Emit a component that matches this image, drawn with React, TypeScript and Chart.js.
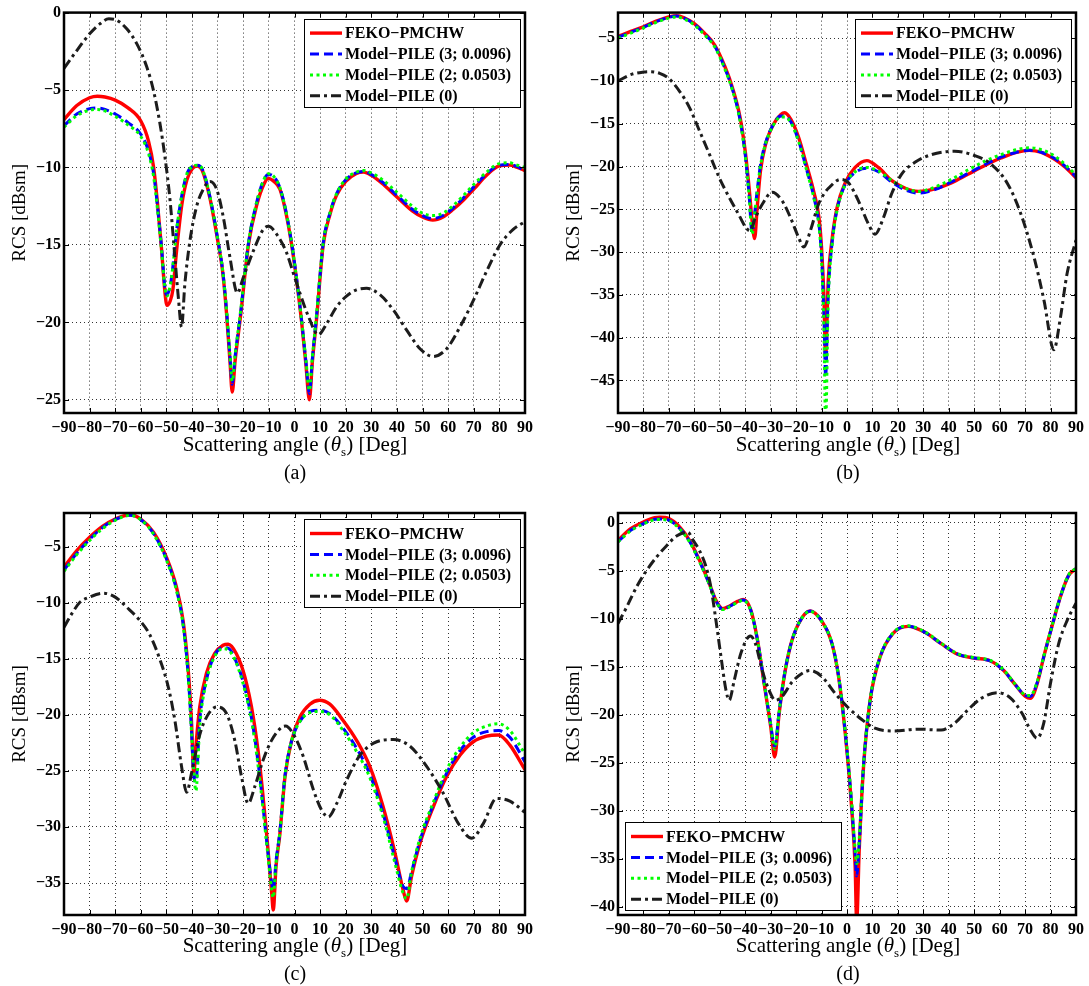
import React, { useEffect, useRef } from "react";
import { Chart, registerables } from "chart.js";

Chart.register(...registerables);

// ---------------- shared ----------------
const xTicks = [-90, -80, -70, -60, -50, -40, -30, -20, -10, 0, 10, 20, 30, 40, 50, 60, 70, 80, 90];
const seriesNames = ["FEKO\u2212PMCHW", "Model\u2212PILE (3; 0.0096)", "Model\u2212PILE (2; 0.0503)", "Model\u2212PILE (0)"];
const seriesColors = ["#ff0000", "#0000ff", "#00ff00", "#1c1c1c"];
const seriesDash = [[], [9, 5], [3, 3.5], [10, 4, 3, 4]];
const seriesWidth = [3.4, 3, 3, 3];

// ---------------- panel (a) ----------------
const yTicksA = [-25, -20, -15, -10, -5, 0];
const angA = [-90, -85, -80, -77, -74, -70, -65, -60, -57, -55, -53.5, -52, -50.5, -49.8, -48.5, -47.5, -46, -44, -42, -40, -38, -36, -33, -30, -28, -26.5, -25.2, -24.3, -23.2, -21, -18, -14.7, -12, -10.2, -8, -5.7, -3.5, -1.1, 1, 2.8, 4.5, 5.8, 7, 8.6, 11.2, 13.9, 16.4, 20, 24, 27, 30, 34, 40, 46, 50, 54, 58, 62, 66, 70, 75, 80, 84, 87, 90];
const fekoA = [-6.9, -6.0, -5.5, -5.4, -5.45, -5.65, -6.15, -7.0, -8.3, -10.0,
  -12.3, -15.1, -18.2, -18.9, -18.6, -17.9, -15.3, -12.4, -10.8, -10.1,
  -9.9, -10.2, -12.0, -14.7, -16.8, -19.5, -22.5, -24.5, -22.5, -19.5,
  -15.0, -12.4, -11.1, -10.7, -10.9, -11.4, -12.8, -15.0, -17.5, -20.0,
  -22.8, -25.0, -22.5, -19.8, -15.0, -13.0, -11.8, -10.9, -10.4, -10.3,
  -10.5, -11.0, -11.9, -12.8, -13.2, -13.4, -13.2, -12.7, -12.1, -11.4,
  -10.5, -9.9, -9.85, -10.0, -10.2];
const pile3A = [-7.3, -6.55, -6.2, -6.15, -6.25, -6.55, -7.1, -7.85, -8.95, -10.4,
  -12.5, -15.0, -17.9, -18.2, -17.6, -16.4, -14.0, -11.8, -10.4, -9.95,
  -9.85, -10.1, -11.9, -14.6, -16.7, -19.3, -22.2, -24.0, -22.2, -19.3,
  -14.9, -12.2, -10.8, -10.45, -10.6, -11.3, -12.7, -14.9, -17.4, -19.9,
  -22.6, -24.6, -22.3, -19.6, -14.9, -12.9, -11.7, -10.8, -10.35, -10.25,
  -10.45, -10.9, -11.8, -12.7, -13.1, -13.3, -13.1, -12.6, -11.95, -11.25,
  -10.4, -9.85, -9.8, -9.95, -10.2];
const pile2A = [-7.4, -6.65, -6.3, -6.25, -6.35, -6.7, -7.25, -8.0, -9.1, -10.6,
  -12.7, -15.2, -17.9, -18.3, -17.6, -16.4, -14.0, -11.8, -10.4, -9.95,
  -9.85, -10.1, -11.9, -14.6, -16.7, -19.3, -22.1, -23.8, -22.1, -19.2,
  -14.9, -12.2, -10.8, -10.4, -10.6, -11.3, -12.7, -14.9, -17.4, -19.9,
  -22.5, -24.4, -22.2, -19.5, -14.9, -12.9, -11.7, -10.75, -10.3, -10.2,
  -10.35, -10.75, -11.6, -12.5, -12.95, -13.1, -12.95, -12.45, -11.8, -11.1,
  -10.3, -9.75, -9.7, -9.85, -10.0];
const angA0 = [-90, -85, -80, -76, -72.5, -70, -65.5, -61.6, -57.7, -55.1, -52.5, -50.6, -48.6, -46.7, -45.3, -44.1, -42.8, -40.8, -38.2, -35.6, -33, -30.4, -27.8, -25.2, -22.3, -20, -16.1, -12.2, -10.2, -7, -3.1, -0.5, 2.1, 5.4, 9.3, 12.5, 16.4, 20.3, 24.2, 28.1, 33.3, 38.6, 43.8, 49, 54.2, 59.4, 64.6, 69.8, 75, 80.2, 85.4, 90];
const pile0A = [-3.6, -2.45, -1.37, -0.73, -0.4, -0.45, -1.05, -2.0, -3.5, -5.0,
  -7.2, -9.3, -12.1, -15.8, -18.5, -20.3, -17.5, -14.7, -12.5, -11.4,
  -10.9, -11.4, -13.2, -15.8, -18.1, -17.1, -15.4, -14.0, -13.8, -14.3,
  -15.5, -16.8, -18.1, -19.6, -20.8, -20.1, -19.0, -18.3, -17.9, -17.8,
  -18.2, -19.2, -20.5, -21.7, -22.2, -21.7, -20.3, -18.6, -16.7, -15.0,
  -14.0, -13.5];

// ---------------- panel (b) ----------------
const yTicksB = [-45, -40, -35, -30, -25, -20, -15, -10, -5];
const angB = [-90, -85, -80, -75, -70, -67, -64, -60, -56, -52, -48, -45, -42, -40, -38.5, -37.3, -36.3, -35.3, -34, -32, -29, -26, -24.5, -22, -19, -16, -13, -11, -10, -9.1, -8.4, -7.4, -5.9, -3.9, -0.7, 3.2, 7.8, 12.3, 17.5, 22.7, 28, 34.5, 41, 47.5, 54, 60.5, 67, 71.6, 76.1, 81.3, 85.9, 90];
const fekoB = [-4.8, -4.2, -3.65, -3.0, -2.5, -2.35, -2.6, -3.3, -4.4, -5.8,
  -8.3, -10.8, -14.3, -18.2, -22.4, -26.3, -28.4, -24.8, -20.5, -17.4,
  -15.1, -13.9, -13.7, -14.5, -16.6, -19.7, -23.0, -26.0, -29.5, -35.0,
  -42.2, -33.5, -28.6, -24.8, -21.9, -20.1, -19.3, -20.1, -21.6, -22.5,
  -22.9, -22.6, -21.9, -20.9, -19.9, -19.0, -18.3, -18.1, -18.3, -19.1,
  -20.1, -21.3];
const pile3B = [-4.9, -4.3, -3.7, -3.05, -2.55, -2.4, -2.65, -3.35, -4.5, -5.9,
  -8.5, -11.0, -14.6, -18.6, -23.2, -27.7, -25.5, -22.8, -19.8, -17.2,
  -15.1, -14.1, -14.1, -14.8, -17.0, -20.2, -23.6, -26.8, -30.5, -37.0,
  -44.5, -35.0, -29.0, -25.0, -22.1, -20.7, -20.2, -20.6, -21.8, -22.7,
  -23.1, -22.7, -21.8, -20.8, -19.8, -18.9, -18.3, -18.1, -18.3, -19.0,
  -20.0, -21.2];
const pile2B = [-5.0, -4.4, -3.8, -3.15, -2.65, -2.5, -2.75, -3.45, -4.6, -6.0,
  -8.6, -11.1, -14.7, -18.7, -23.3, -27.9, -25.6, -22.9, -19.9, -17.3,
  -15.2, -14.2, -14.2, -14.9, -17.1, -20.3, -23.7, -27.0, -31.0, -38.5,
  -50.0, -36.0, -29.3, -25.1, -22.1, -20.6, -20.1, -20.5, -21.6, -22.5,
  -22.9, -22.4, -21.5, -20.4, -19.4, -18.6, -18.0, -17.8, -18.0, -18.7,
  -19.8, -21.0];
const angB0 = [-90, -85, -80, -77.5, -73.6, -70, -65.8, -61.9, -58, -54, -50.2, -46.3, -42.4, -39.8, -38.2, -35.9, -33.3, -29.4, -25.5, -22.3, -19, -17, -14.4, -11.2, -8.6, -7.2, -2.6, 0.6, 4.5, 8.4, 11, 14.3, 17.5, 21.4, 26.7, 33.2, 42.3, 50.1, 56.6, 63.1, 68.3, 73.5, 77.4, 81.3, 83.9, 86.5, 90];
const pile0B = [-10.0, -9.25, -8.95, -8.9, -9.1, -9.7, -11.2, -13.1, -15.8, -18.6,
  -21.3, -23.6, -25.7, -27.1, -27.5, -25.9, -24.4, -23.0, -24.0, -25.9,
  -28.3, -29.4, -27.5, -24.4, -23.0, -22.5, -21.5, -21.9, -24.0, -26.7,
  -27.9, -26.0, -23.2, -20.9, -19.5, -18.6, -18.2, -18.7, -19.7, -22.0,
  -25.5, -30.6, -35.6, -41.4, -37.6, -32.5, -28.6];

// ---------------- panel (c) ----------------
const yTicksC = [-35, -30, -25, -20, -15, -10, -5];
const angC = [-90, -85, -80, -75, -70, -64.2, -60, -55, -50, -46.1, -43.5, -41.6, -40.3, -39.3, -38.5, -37, -34.4, -31.2, -27.9, -25.9, -22.7, -19.4, -16.1, -13.5, -10.9, -8.9, -8.3, -7.2, -5.7, -3.7, -1.1, 2.1, 6, 9.7, 13.8, 19, 24.3, 29.4, 34.6, 39.2, 42.4, 43.8, 45.7, 49, 54.2, 59.4, 64.6, 69.8, 75, 79.6, 84.1, 90];
const fekoC = [-6.84, -5.36, -4.17, -3.2, -2.54, -2.15, -2.54, -3.73, -5.95, -8.6,
  -11.6, -15.7, -20.2, -25.2, -22.8, -19.3, -16.3, -14.55, -13.8, -13.7,
  -14.55, -16.6, -20.2, -24.6, -30.6, -35.9, -37.4, -33.5, -30.6, -25.5,
  -22.3, -20.2, -19.05, -18.7, -19.05, -20.5, -22.3, -24.6, -28.2, -32.3,
  -35.6, -36.6, -34.4, -31.45, -28.2, -25.5, -23.6, -22.4, -21.9, -21.8,
  -22.7, -24.9];
const pile3C = [-7.1, -5.6, -4.35, -3.3, -2.6, -2.2, -2.6, -3.85, -6.1, -8.8,
  -11.9, -16.2, -21.0, -25.5, -26.0, -20.5, -16.9, -14.7, -14.0, -14.05,
  -15.3, -17.6, -21.2, -25.6, -31.2, -35.0, -35.6, -33.0, -30.4, -25.4,
  -22.3, -20.6, -19.7, -19.6, -19.9, -21.2, -23.0, -25.3, -28.8, -32.8,
  -35.3, -35.5, -34.0, -31.2, -28.0, -25.2, -23.2, -22.0, -21.5, -21.4,
  -22.0, -24.2];
const pile2C = [-7.2, -5.7, -4.45, -3.4, -2.65, -2.2, -2.6, -3.9, -6.2, -8.9,
  -12.0, -16.3, -21.2, -25.0, -26.8, -21.0, -17.0, -14.8, -14.1, -14.2,
  -15.4, -17.8, -21.4, -25.9, -31.4, -35.6, -36.3, -33.2, -30.5, -25.4,
  -22.3, -20.6, -19.8, -19.7, -20.0, -21.4, -23.3, -25.6, -29.1, -33.2,
  -35.9, -36.4, -34.0, -31.0, -27.8, -24.9, -22.9, -21.6, -21.0, -20.8,
  -21.4, -23.5];
const angC0 = [-90, -87, -83.8, -80, -74.6, -70, -65.5, -60.3, -56.4, -52.5, -49.3, -46.7, -44.1, -42.1, -40.2, -37.6, -35, -30.4, -26.5, -23.3, -20.7, -18.1, -15.5, -12.2, -9, -5, -3.5, -0.5, 3.4, 7.4, 10.6, 13.2, 16.5, 20.4, 25.6, 32.1, 38.6, 45.1, 51.6, 58.1, 64, 69.2, 73.7, 78.9, 84.1, 90];
const pile0C = [-12.2, -11.0, -9.96, -9.5, -9.15, -9.5, -10.4, -11.6, -12.9, -15.1,
  -17.5, -20.5, -24.6, -26.9, -25.2, -22.3, -20.5, -19.3, -19.9, -22.3,
  -25.5, -27.9, -26.4, -24.0, -22.3, -21.1, -21.0, -21.7, -23.7, -26.7,
  -28.5, -29.1, -27.9, -25.8, -23.6, -22.4, -22.2, -22.8, -24.6, -27.0,
  -29.7, -31.0, -29.7, -27.45, -27.7, -28.7];

// ---------------- panel (d) ----------------
const yTicksD = [-40, -35, -30, -25, -20, -15, -10, -5, 0];
const angD = [-90, -85, -80, -75.6, -73.6, -70, -65.8, -61.9, -58, -54.1, -51.5, -48.9, -46.3, -43, -40.8, -37.8, -35.2, -32.6, -30, -28.4, -26.8, -24.9, -22.3, -19, -14.5, -9.8, -5.9, -3.3, -0.7, 1.6, 3.2, 3.8, 4.8, 6.5, 9.1, 13, 18.2, 24, 30.5, 37, 43.5, 50, 56.4, 61.6, 66.2, 70.1, 72.1, 74.7, 77.3, 80.5, 83.9, 87.1, 90];
const fekoD = [-1.84, -0.63, 0.07, 0.52, 0.55, 0.41, -0.45, -1.84, -3.9, -6.35,
  -8.1, -8.95, -8.7, -8.2, -8.0, -9.1, -12.2, -16.7, -21.2, -24.4,
  -20.2, -16.4, -12.9, -10.5, -9.2, -10.3, -12.6, -16.05, -21.9, -28.9,
  -35.8, -41.5, -34.1, -25.4, -18.5, -14.0, -11.5, -10.8, -11.4, -12.6,
  -13.7, -14.1, -14.4, -15.4, -16.9, -18.1, -18.3, -16.8, -14.0, -10.85,
  -7.7, -5.5, -4.8];
const pile3D = [-2.0, -0.8, -0.1, 0.35, 0.38, 0.25, -0.6, -1.95, -4.0, -6.4,
  -8.15, -9.0, -8.75, -8.25, -8.05, -9.15, -12.2, -16.6, -21.0, -23.3,
  -20.0, -16.3, -12.9, -10.5, -9.2, -10.3, -12.6, -16.0, -21.8, -28.6,
  -34.5, -36.8, -33.5, -25.3, -18.5, -14.0, -11.5, -10.8, -11.4, -12.6,
  -13.7, -14.1, -14.4, -15.4, -16.9, -18.0, -18.1, -16.7, -14.0, -10.85,
  -7.7, -5.5, -4.8];
const pile2D = [-2.0, -0.85, -0.15, 0.3, 0.32, 0.2, -0.65, -2.0, -4.05, -6.45,
  -8.2, -9.05, -8.8, -8.3, -8.1, -9.2, -12.2, -16.6, -21.0, -23.6,
  -20.0, -16.3, -12.9, -10.5, -9.25, -10.35, -12.6, -16.0, -21.7, -28.3,
  -34.0, -35.5, -33.0, -25.2, -18.4, -13.95, -11.45, -10.75, -11.35, -12.55,
  -13.65, -14.05, -14.35, -15.35, -16.85, -17.95, -18.0, -16.6, -13.95, -10.8,
  -7.65, -5.45, -4.75];
const angD0 = [-90, -86.6, -82.7, -78.8, -74.9, -70.9, -67, -62.5, -60.6, -58, -55.4, -53.5, -51.5, -49.5, -47.6, -46.3, -44.3, -41.7, -38, -36, -33.3, -30.7, -28.1, -25.5, -21.6, -17.7, -14.5, -9.8, -4.6, 0.6, 5.8, 11, 18.8, 27.9, 37, 42.2, 47.5, 52.7, 59.2, 64.4, 68.9, 72.1, 74.7, 77.3, 80, 83.2, 86.5, 90];
const pile0D = [-10.5, -8.8, -6.7, -5.0, -3.6, -2.4, -1.4, -1.0, -1.8, -2.9,
  -4.6, -6.7, -10.2, -14.0, -17.4, -18.5, -16.4, -13.6, -11.8, -12.6,
  -15.4, -17.4, -18.5, -18.1, -16.6, -15.7, -15.4, -16.05, -17.8, -19.3,
  -20.5, -21.4, -21.7, -21.5, -21.6, -20.9, -19.5, -18.3, -17.7, -18.3,
  -19.9, -21.6, -22.45, -20.9, -16.7, -12.6, -10.2, -8.4];

// ---------------- helpers ----------------
const SERIF = "'Liberation Serif', 'Times New Roman', serif";
const fmt = (v: number) => (v < 0 ? "\u2212" + String(Math.abs(v)) : String(v));

const framePlugin = {
  id: "matlabFrame",
  afterDatasetsDraw(chart: any) {
    const { ctx, chartArea: a, scales } = chart;
    ctx.save();
    ctx.strokeStyle = "#000";
    ctx.lineWidth = 1;
    ctx.setLineDash([]);
    ctx.beginPath();
    for (const t of scales.x.ticks) {
      const px = Math.round(scales.x.getPixelForValue(t.value)) + 0.5;
      ctx.moveTo(px, a.bottom);
      ctx.lineTo(px, a.bottom - 5);
      ctx.moveTo(px, a.top);
      ctx.lineTo(px, a.top + 5);
    }
    for (const t of scales.y.ticks) {
      const py = Math.round(scales.y.getPixelForValue(t.value)) + 0.5;
      ctx.moveTo(a.left, py);
      ctx.lineTo(a.left + 5, py);
      ctx.moveTo(a.right, py);
      ctx.lineTo(a.right - 5, py);
    }
    ctx.stroke();
    ctx.lineWidth = 2.5;
    ctx.strokeRect(a.left, a.top, a.right - a.left, a.bottom - a.top);
    ctx.restore();
  },
};

const legendPlugin = {
  id: "pileLegend",
  afterDraw(chart: any, _args: any, opts: any) {
    const { ctx, chartArea: a } = chart;
    const w = 216;
    const h = 88;
    const x = opts.corner === "bl" ? a.left + 7 : a.right - w - 5;
    const y = opts.corner === "bl" ? a.bottom - h - 5 : a.top + 6;
    ctx.save();
    ctx.fillStyle = "#fff";
    ctx.fillRect(x, y, w, h);
    ctx.strokeStyle = "#000";
    ctx.lineWidth = 1;
    ctx.setLineDash([]);
    ctx.strokeRect(Math.round(x) + 0.5, Math.round(y) + 0.5, w, h);
    chart.data.datasets.forEach((ds: any, i: number) => {
      const ry = y + 14.5 + i * 20.9;
      ctx.strokeStyle = ds.borderColor;
      ctx.lineWidth = ds.borderWidth;
      ctx.setLineDash(ds.borderDash || []);
      ctx.beginPath();
      ctx.moveTo(x + 6, ry);
      ctx.lineTo(x + 38, ry);
      ctx.stroke();
      ctx.setLineDash([]);
      ctx.fillStyle = "#000";
      ctx.font = "bold 16px " + SERIF;
      ctx.textBaseline = "middle";
      ctx.textAlign = "left";
      ctx.fillText(ds.label, x + 41, ry + 1);
    });
    ctx.restore();
  },
};

type Series = { x: number[]; y: number[] };
type PanelProps = {
  left: number; top: number; width: number; height: number;
  padTop: number; padRight: number; yAxisW: number; titlePad: number;
  yMin: number; yMax: number; yTicks: number[]; series: Series[]; corner: string;
};

function Panel(p: PanelProps) {
  const ref = useRef<HTMLCanvasElement>(null);
  useEffect(() => {
    const canvas = ref.current;
    if (!canvas) return;
    const tickFont = { family: SERIF, size: 16, weight: "bold" as const };
    const grid = { color: "rgba(0,0,0,0.8)", lineWidth: 1, drawTicks: false };
    const chart = new Chart(canvas, {
      type: "line",
      data: {
        datasets: p.series.map((s, i) => ({
          label: seriesNames[i],
          data: s.x.map((v, j) => ({ x: v, y: s.y[j] })),
          borderColor: seriesColors[i],
          backgroundColor: seriesColors[i],
          borderWidth: seriesWidth[i],
          borderDash: seriesDash[i],
          pointRadius: 0,
          fill: false,
          cubicInterpolationMode: "monotone" as const,
          order: 3 - i,
        })),
      },
      options: {
        responsive: false,
        animation: false,
        devicePixelRatio: 1,
        layout: { padding: { top: p.padTop, right: p.padRight, left: 0, bottom: 0 } },
        plugins: {
          legend: { display: false },
          tooltip: { enabled: false },
          pileLegend: { corner: p.corner },
        } as any,
        scales: {
          x: {
            type: "linear",
            min: -90,
            max: 90,
            afterBuildTicks: (s: any) => { s.ticks = xTicks.map((v) => ({ value: v })); },
            afterFit: (s: any) => { s.height = 27; },
            grid,
            border: { display: false, dash: [1, 3] },
            ticks: {
              autoSkip: false, maxRotation: 0, minRotation: 0, padding: 5, color: "#000",
              font: tickFont, callback: (v: any) => fmt(Number(v)),
            },
          },
          y: {
            type: "linear",
            min: p.yMin,
            max: p.yMax,
            afterBuildTicks: (s: any) => { s.ticks = p.yTicks.map((v) => ({ value: v })); },
            afterFit: (s: any) => { s.width = p.yAxisW; },
            grid,
            border: { display: false, dash: [1, 3] },
            ticks: {
              autoSkip: false, padding: 3, color: "#000",
              font: tickFont, callback: (v: any) => fmt(Number(v)),
            },
            title: {
              display: true, text: "RCS [dBsm]", color: "#000",
              font: { family: SERIF, size: 19, weight: "normal" as const },
              padding: { top: p.titlePad, bottom: 0 },
            },
          },
        },
      },
      plugins: [framePlugin, legendPlugin],
    } as any);
    return () => chart.destroy();
  }, []);
  return (
    <canvas
      ref={ref}
      width={p.width}
      height={p.height}
      style={{ position: "absolute", left: p.left, top: p.top, width: p.width, height: p.height }}
    />
  );
}

function Caption({ cx, cy, letter }: { cx: number; cy: number; letter: string }) {
  const base: React.CSSProperties = {
    position: "absolute", width: 400, textAlign: "center", fontFamily: SERIF, color: "#000",
    whiteSpace: "nowrap",
  };
  return (
    <>
      <div style={{ ...base, left: cx - 200, top: cy - 12, fontSize: 21, lineHeight: "24px" }}>
        Scattering angle (<i>θ</i><sub style={{ fontSize: 13, lineHeight: 0 }}>s</sub>) [Deg]
      </div>
      <div style={{ ...base, left: cx - 200, top: cy + 16, fontSize: 20, lineHeight: "24px" }}>
        ({letter})
      </div>
    </>
  );
}

export default function App() {
  return (
    <div style={{ position: "absolute", left: 0, top: 0, width: 1089, height: 986, background: "#fff", overflow: "hidden" }}>
      <Panel left={0} top={0} width={545} height={440} padTop={12} padRight={20} yAxisW={64} titlePad={9}
        yMin={-25.85} yMax={0} yTicks={yTicksA} corner="tr"
        series={[{ x: angA, y: fekoA }, { x: angA, y: pile3A }, { x: angA, y: pile2A }, { x: angA0, y: pile0A }]} />
      <Panel left={545} top={0} width={544} height={440} padTop={11} padRight={11} yAxisW={73} titlePad={18}
        yMin={-48.8} yMax={-2.0} yTicks={yTicksB} corner="tr"
        series={[{ x: angB, y: fekoB }, { x: angB, y: pile3B }, { x: angB, y: pile2B }, { x: angB0, y: pile0B }]} />
      <Panel left={0} top={500} width={545} height={442} padTop={13} padRight={20} yAxisW={64} titlePad={9}
        yMin={-37.85} yMax={-2.0} yTicks={yTicksC} corner="tr"
        series={[{ x: angC, y: fekoC }, { x: angC, y: pile3C }, { x: angC, y: pile2C }, { x: angC0, y: pile0C }]} />
      <Panel left={545} top={500} width={544} height={442} padTop={13} padRight={11} yAxisW={73} titlePad={18}
        yMin={-40.85} yMax={1.0} yTicks={yTicksD} corner="bl"
        series={[{ x: angD, y: fekoD }, { x: angD, y: pile3D }, { x: angD, y: pile2D }, { x: angD0, y: pile0D }]} />
      <Caption cx={295} cy={444} letter="a" />
      <Caption cx={848} cy={444} letter="b" />
      <Caption cx={295} cy={945} letter="c" />
      <Caption cx={848} cy={945} letter="d" />
    </div>
  );
}
